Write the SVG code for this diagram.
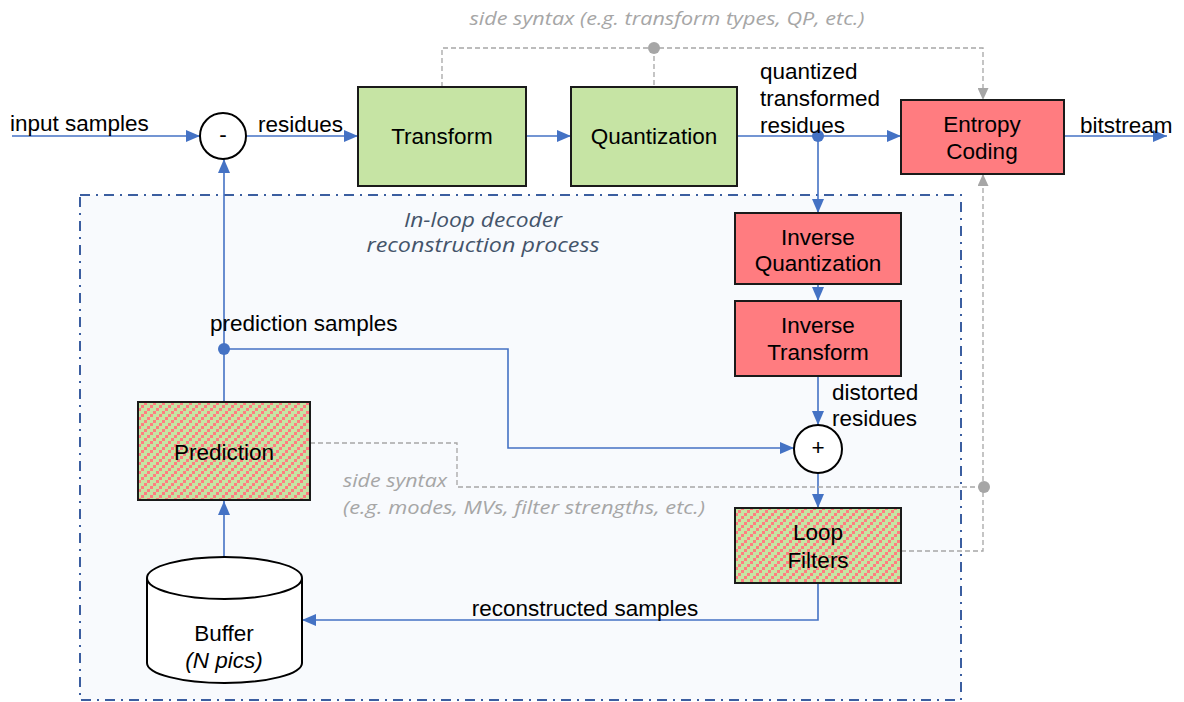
<svg xmlns="http://www.w3.org/2000/svg" width="1184" height="702" viewBox="0 0 1184 702">
<defs>
<style>
.box{stroke:#1a1a1a;stroke-width:2}
.green{fill:#c6e4a4}
.red{fill:#ff7c80}
.hatch{fill:url(#hatch)}
.lbl{font-family:"Liberation Sans",Arial,sans-serif;font-size:22.5px;fill:#000}
.mid{text-anchor:middle}
.it{font-family:"Open Sans","Liberation Sans",sans-serif;font-style:italic}
.gray{fill:#a6a6a6}
.blue{stroke:#4472c4;stroke-width:1.6;fill:none}
.gline{stroke:#a6a6a6;stroke-width:1.3;fill:none;stroke-dasharray:5,3}
</style>
<pattern id="hatch" width="9" height="9" patternUnits="userSpaceOnUse">
<rect width="9" height="9" fill="#c6e4a4"/>
<rect x="0" y="6" width="3" height="3" fill="#ff7c80"/>
<rect x="3" y="3" width="3" height="3" fill="#ff7c80"/>
<rect x="6" y="0" width="3" height="3" fill="#ff7c80"/>
</pattern>
<marker id="ab" markerUnits="userSpaceOnUse" markerWidth="14" markerHeight="12" refX="14" refY="6" orient="auto">
<path d="M0,0 L14,6 L0,12 z" fill="#4472c4"/>
</marker>
<marker id="ag" markerUnits="userSpaceOnUse" markerWidth="12" markerHeight="11" refX="12" refY="5.5" orient="auto">
<path d="M0,0 L12,5.5 L0,11 z" fill="#a6a6a6"/>
</marker>
</defs>
<rect width="1184" height="702" fill="#ffffff"/>

<g id="inloop">
<rect x="80" y="195" width="881" height="505" fill="#f8fafd" stroke="#3b5ea0" stroke-width="2" stroke-dasharray="10,6,2,6"/>
<text class="it mid" x="483" y="227" font-size="20" fill="#44546a" textLength="158" lengthAdjust="spacingAndGlyphs">In-loop decoder</text>
<text class="it mid" x="483" y="252" font-size="20" fill="#44546a" textLength="233" lengthAdjust="spacingAndGlyphs">reconstruction process</text>
</g>

<g id="connectors">
<path class="blue" d="M12,136 H200" marker-end="url(#ab)"/>
<path class="blue" d="M246,136 H358" marker-end="url(#ab)"/>
<path class="blue" d="M526,136 H571" marker-end="url(#ab)"/>
<path class="blue" d="M737,136 H901" marker-end="url(#ab)"/>
<path class="blue" d="M1064,136 H1167" marker-end="url(#ab)"/>
<path class="blue" d="M818,136 V213" marker-end="url(#ab)"/>
<path class="blue" d="M818,284 V301" marker-end="url(#ab)"/>
<path class="blue" d="M818,376 V425" marker-end="url(#ab)"/>
<path class="blue" d="M818,473 V508" marker-end="url(#ab)"/>
<path class="blue" d="M818,583 V620 H302" marker-end="url(#ab)"/>
<path class="blue" d="M224,557 V501" marker-end="url(#ab)"/>
<path class="blue" d="M224,402 V159" marker-end="url(#ab)"/>
<path class="blue" d="M224,349 H508 V448 H794" marker-end="url(#ab)"/>
<circle cx="818" cy="136" r="6" fill="#4472c4"/>
<circle cx="224" cy="349" r="6" fill="#4472c4"/>
<path class="gline" d="M442,87 V48 H983 V100" marker-end="url(#ag)"/>
<path class="gline" d="M654,48 V87"/>
<circle cx="654" cy="48" r="6" fill="#a6a6a6"/>
<path class="gline" d="M310,443 H457 V487 H983"/>
<path class="gline" d="M901,551 H983 V174" marker-end="url(#ag)"/>
<circle cx="984" cy="487" r="6" fill="#a6a6a6"/>
</g>

<g id="labels">
<text class="lbl" x="10" y="131">input samples</text>
<text class="lbl" x="258" y="132">residues</text>
<text class="lbl" x="760" y="79">quantized</text>
<text class="lbl" x="760" y="106">transformed</text>
<text class="lbl" x="760" y="133">residues</text>
<text class="lbl" x="1080" y="133">bitstream</text>
<text class="lbl" x="210" y="331">prediction samples</text>
<text class="lbl" x="832" y="400">distorted</text>
<text class="lbl" x="832" y="426">residues</text>
<text class="lbl mid" x="585" y="616">reconstructed samples</text>
<text class="it gray mid" x="667" y="25" font-size="18.5" textLength="395" lengthAdjust="spacingAndGlyphs">side syntax (e.g. transform types, QP, etc.)</text>
<text class="it gray" x="343" y="487" font-size="18.5" textLength="104" lengthAdjust="spacingAndGlyphs">side syntax</text>
<text class="it gray" x="343" y="514" font-size="18.5" textLength="362" lengthAdjust="spacingAndGlyphs">(e.g. modes, MVs, filter strengths, etc.)</text>
</g>

<g id="subtract">
<circle cx="223" cy="136" r="23" fill="#fff" stroke="#000" stroke-width="2"/>
<text class="lbl mid" x="223" y="142" font-size="18">-</text>
</g>
<g id="transform">
<rect class="box green" x="358" y="87" width="168" height="99"/>
<text class="lbl mid" x="442" y="144">Transform</text>
</g>
<g id="quantization">
<rect class="box green" x="571" y="87" width="166" height="99"/>
<text class="lbl mid" x="654" y="144">Quantization</text>
</g>
<g id="entropy">
<rect class="box red" x="901" y="100" width="163" height="74"/>
<text class="lbl mid" x="982" y="132">Entropy</text>
<text class="lbl mid" x="982" y="159">Coding</text>
</g>
<g id="invquant">
<rect class="box red" x="735" y="213" width="166" height="71"/>
<text class="lbl mid" x="818" y="245">Inverse</text>
<text class="lbl mid" x="818" y="271">Quantization</text>
</g>
<g id="invtransform">
<rect class="box red" x="735" y="301" width="166" height="75"/>
<text class="lbl mid" x="818" y="333">Inverse</text>
<text class="lbl mid" x="818" y="360">Transform</text>
</g>
<g id="add">
<circle cx="818" cy="449" r="24" fill="#fff" stroke="#000" stroke-width="2"/>
<text class="lbl mid" x="818" y="455" font-size="16">+</text>
</g>
<g id="loopfilters">
<rect class="box hatch" x="735" y="508" width="166" height="75"/>
<text class="lbl mid" x="818" y="540">Loop</text>
<text class="lbl mid" x="818" y="568">Filters</text>
</g>
<g id="prediction">
<rect class="box hatch" x="138" y="402" width="172" height="98"/>
<text class="lbl mid" x="224" y="460">Prediction</text>
</g>
<g id="buffer">
<path d="M147,578 V663 A77.5,20 0 0 0 302,663 V578 A77.5,21 0 0 0 147,578 z" fill="#fff" stroke="#000" stroke-width="2"/>
<path d="M147,578 A77.5,21 0 0 0 302,578" fill="none" stroke="#000" stroke-width="2"/>
<text class="lbl mid" x="224" y="641">Buffer</text>
<text class="lbl mid" x="224" y="668" font-size="18" font-style="italic" font-family="Open Sans, sans-serif">(N pics)</text>
</g>
</svg>
